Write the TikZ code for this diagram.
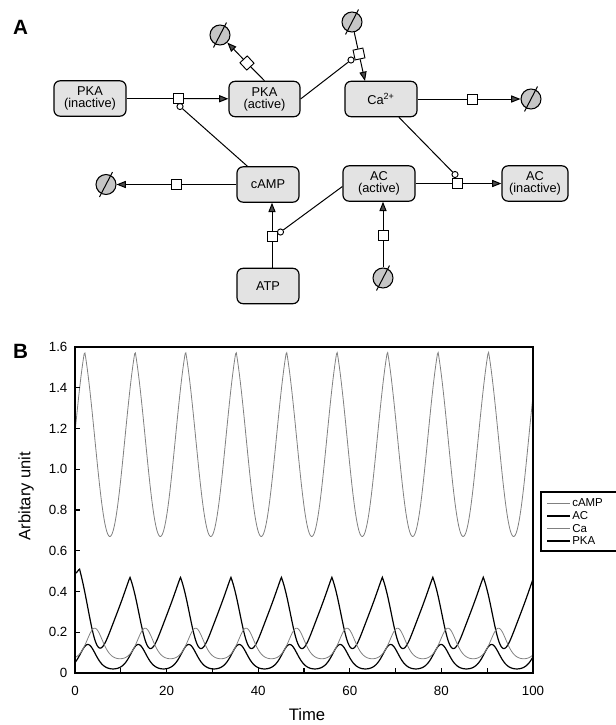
\documentclass[tikz,border=0pt]{standalone}
\usepackage{fontspec}
\setmainfont{Liberation Sans}
\usetikzlibrary{arrows.meta,calc}
\begin{document}
\begin{tikzpicture}[x=0.75pt,y=-0.75pt,
  box/.style={draw, line width=0.9pt, rounded corners=4.5pt, fill=gray!22, minimum height=26.5pt, align=center, inner sep=1pt, font=\fontsize{9.6}{8.9}\selectfont},
  rsq/.style={draw, fill=white, line width=0.7pt, minimum size=7.5pt, inner sep=0pt},
  modc/.style={draw, fill=white, circle, line width=0.7pt, minimum size=4.6pt, inner sep=0pt},
  degr/.style={draw, circle, fill=gray!45, line width=0.8pt, minimum size=15pt, inner sep=0pt},
  conn/.style={line width=0.75pt},
  arr/.style={conn, -{Triangle[length=7pt,width=5.4pt,fill=gray!60!black]}},
  campL/.style={gray, line width=0.6pt},
  blackL/.style={black, line width=0.9pt},
  ticklab/.style={font=\fontsize{10}{10}\selectfont, inner sep=0pt},
  declare function={
    pk(\a,\k)=(exp(\k*(cos(\a)-1))-exp(-2*\k))/(1-exp(-2*\k));
    ph(\t,\p)=(\t-\p)*32.668;
    wp(\a)=\a+18*(1-cos(\a));
    tri(\a)=0.6*(1-abs(sin(\a/2)))+0.4*(0.5+0.5*cos(\a));
    acv(\t)=0.12+0.35*tri(wp(ph(\t,0.98)))+0.08*exp(-min(\t,12)/1.5);
    cav(\t)=0.07+0.15*pk(ph(\t,4.3),1.0);
    pkav(\t)=0.02+0.12*pk(ph(\t,2.8),1.0);
    campv(\t)=0.67+0.91*(0.5*(1-abs(sin(ph(\t,2.1)/2)))+0.5*(0.5+0.5*cos(ph(\t,2.1))));
  }
]
\useasboundingbox (0,0) rectangle (616,725);

% ---------- Panel A ----------
\node[font=\bfseries\fontsize{15.5}{15.5}\selectfont, inner sep=0pt] (labA) at (20.5,27) {A};

\node[box, minimum width=54pt] (pkai) at (90,98.5) {PKA\\(inactive)};
\node[box, minimum width=53.25pt] (pkaa) at (264.5,99) {PKA\\(active)};
\node[box, minimum width=54pt] (ca) at (381,99) {Ca\textsuperscript{2+}};
\node[box, minimum width=46.5pt] (camp) at (268,184.5) {cAMP};
\node[box, minimum width=46.5pt] (atp) at (268,286) {ATP};
\node[box, minimum width=54pt] (aca) at (379,183.5) {AC\\(active)};
\node[box, minimum width=49.5pt] (aci) at (535,183.5) {AC\\(inactive)};

% degradation / source symbols
\node[degr] (d1) at (220,35) {};
\node[degr] (d2) at (352,22) {};
\node[degr] (d3) at (531,99) {};
\node[degr] (d4) at (106,184.5) {};
\node[degr] (d5) at (383,278) {};
\foreach \d in {d1,d2,d3,d4,d5}
  \draw[conn] ($(\d)+(-6.5,12.5)$) -- ($(\d)+(6.5,-12.5)$);

% reaction squares
\node[rsq] (r1) at (178,98.5) {};
\node[rsq, rotate=43] (r2) at (247,63) {};
\node[rsq, rotate=12] (r3) at (359,54) {};
\node[rsq] (r4) at (472,99) {};
\node[rsq] (r5) at (457,183.5) {};
\node[rsq] (r6) at (176,184.5) {};
\node[rsq] (r7) at (272,236) {};
\node[rsq] (r8) at (383,235) {};
\coordinate (caIn) at (365,81);

% connectors
\draw[conn] (pkai) -- (r1);  \draw[arr] (r1) -- (pkaa);
\draw[conn] (pkaa.north) -- (r2);  \draw[arr] (r2) -- (d1);
\draw[conn] (d2) -- (r3);  \draw[arr] (r3) -- (caIn);
\draw[conn] (ca) -- (r4);  \draw[arr] (r4) -- (d3);
\draw[conn] (aca) -- (r5);  \draw[arr] (r5) -- (aci);
\draw[conn] (camp) -- (r6);  \draw[arr] (r6) -- (d4);
\draw[conn] (atp.north -| r7) -- (r7);  \draw[arr] (r7) -- (camp.south -| r7);
\draw[conn] (d5) -- (r8);  \draw[arr] (r8) -- (aca.south -| r8);

% modifiers
\node[modc] (m1) at (180,106.5) {};
\node[modc] (m2) at (351,60) {};
\node[modc] (m3) at (455,174.5) {};
\node[modc] (m4) at (280.5,232) {};
\draw[conn] (m1) -- (camp);
\draw[conn] (pkaa.east) -- (m2);
\draw[conn] (ca) -- (m3);
\draw[conn] (m4) -- ($(aca.west)+(0,3)$);

% ---------- Panel B ----------
\node[font=\bfseries\fontsize{15.5}{15.5}\selectfont, inner sep=0pt] (labB) at (20.5,351) {B};
\node[rotate=90, font=\fontsize{12.4}{12.4}\selectfont, inner sep=0pt] (ylab) at (26,496) {Arbitary unit};
\node[font=\fontsize{12.5}{12.5}\selectfont, inner sep=0pt] (xlab) at (307,715) {Time};

\begin{scope}[shift={(75,673)}, x=3.435pt, y=152.81pt]
  \draw[blackL] plot[domain=0:100, samples=600] (\x, {acv(\x)});
  \draw[blackL] plot[domain=0:100, samples=600] (\x, {pkav(\x)});
  \draw[campL] plot[domain=0:100, samples=600] (\x, {cav(\x)});
  \draw[campL] plot[domain=0:100, samples=600] (\x, {campv(\x)});
  \draw[line width=1pt] (0,0) rectangle (100,1.6);
  \foreach \v/\l [count=\i] in {0/0,0.2/0.2,0.4/0.4,0.6/0.6,0.8/0.8,1/1.0,1.2/1.2,1.4/1.4,1.6/1.6} {
    \draw[line width=0.8pt] (0,\v) -- +(1.1,0);
    \node[ticklab, anchor=east] (yt\i) at (-1.6,\v) {\l};
  }
  \foreach \t in {10,20,...,90}
    \draw[line width=0.8pt] (\t,0) -- +(0,0.025);
  \foreach \t [count=\i] in {0,20,40,60,80,100}
    \node[ticklab] (xt\i) at (\t,-0.088) {\t};
\end{scope}

% legend
\draw[line width=0.8pt] (617,492) -- (541,492) -- (541,551) -- (617,551);
\draw[campL] (547,503) -- (570,503);
\draw[blackL] (547,516) -- (570,516);
\draw[campL] (547,528.5) -- (570,528.5);
\draw[blackL] (547,541) -- (570,541);
\begin{scope}[every node/.style={anchor=west, inner sep=0pt, font=\fontsize{8.6}{8.6}\selectfont}]
  \node (lg1) at (572,503) {cAMP};
  \node (lg2) at (572,516) {AC};
  \node (lg3) at (572,528.5) {Ca};
  \node (lg4) at (572,541) {PKA};
\end{scope}
\end{tikzpicture}
\end{document}
